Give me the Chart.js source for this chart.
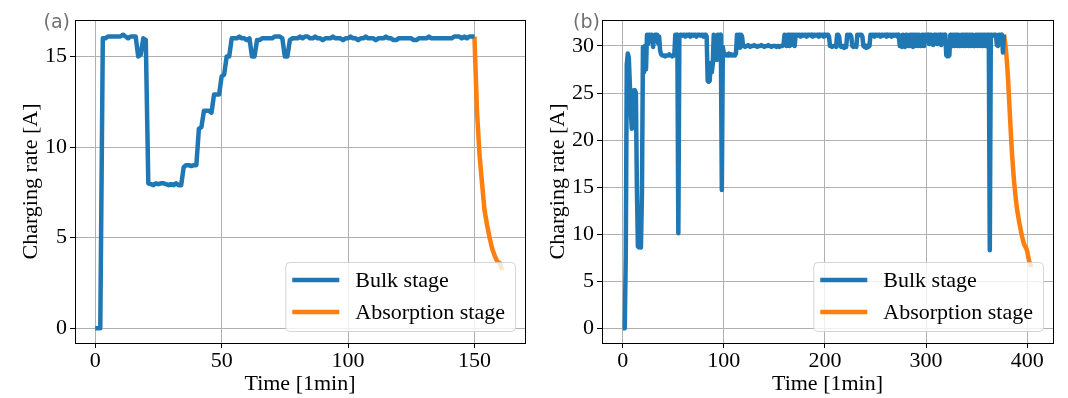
<!DOCTYPE html>
<html>
<head>
<meta charset="utf-8">
<script src="https://cdn.jsdelivr.net/npm/chart.js@4.4.0/dist/chart.umd.min.js"></script>
<style>
body{margin:0;background:#fff;}
#wrap{position:relative;width:1068px;height:398px;}
canvas{position:absolute;top:0;}
</style>
</head>
<body>
<div id="wrap">
<canvas id="chartA" width="534" height="398" style="left:0"></canvas>
<canvas id="chartB" width="534" height="398" style="left:534px"></canvas>
</div>
<script>
var seriesLabels = ['Bulk stage', 'Absorption stage'];

// (a) charging current per minute
var bulkA = [
	0, 0, 0, 16.0, 16.0, 16.1, 16.1, 16.1, 16.1, 16.1,
	16.1, 16.2, 16.1, 16.0, 16.1, 16.1, 16.1, 15.0, 15.1, 16.0,
	15.9, 8.0, 7.95, 7.9, 8.0, 7.95, 8.0, 8.0, 7.95, 7.9,
	7.95, 7.9, 8.0, 7.9, 7.9, 8.9, 9.0, 9.0, 8.95, 9.0,
	9.0, 11.0, 11.1, 12.0, 12.0, 12.0, 11.9, 12.9, 12.9, 12.9,
	13.9, 14.0, 15.0, 15.0, 16.0, 16.0, 16.0, 16.1, 16.0, 16.0,
	15.9, 16.0, 15.0, 15.0, 15.9, 15.9, 16.0, 16.0, 16.0, 16.0,
	16.0, 16.1, 16.1, 16.1, 16.0, 15.0, 15.0, 15.9, 16.0, 16.0,
	16.0, 16.1, 16.0, 16.1, 16.1, 16.0, 16.0, 16.1, 16.0, 16.0,
	15.9, 16.0, 16.0, 16.0, 16.1, 16.0, 16.0, 16.0, 15.9, 16.0,
	16.0, 16.1, 16.0, 16.0, 15.9, 16.0, 16.0, 16.1, 16.0, 16.0,
	16.0, 15.9, 16.0, 16.0, 16.0, 16.1, 16.0, 16.0, 15.9, 15.9,
	16.0, 16.0, 16.0, 16.0, 16.0, 16.0, 15.9, 15.9, 16.0, 16.0,
	16.0, 16.0, 16.1, 16.0, 16.0, 16.0, 16.0, 16.0, 16.0, 16.0,
	16.0, 16.0, 16.1, 16.1, 16.1, 16.0, 16.1, 16.0, 16.1, 16.1,
	16.1
];
var absorptionStartA = 150;
var absorptionA = [16.1, 12.0, 9.6, 8.0, 6.5, 5.7, 5.0, 4.4, 4.0, 3.7, 3.6, 3.2];
var xTicksA = [0, 50, 100, 150];
var yTicksA = [0, 5, 10, 15];

// (b)
var bulkB = [
	0, 0, 0, 7.7, 28.0, 29.2, 28.8, 26.0, 23.0, 21.2,
	23.5, 25.3, 25.3, 25.0, 15.0, 8.7, 8.6, 8.7, 8.6, 14.3,
	29.9, 27.2, 30.0, 27.5, 31.2, 30.2, 31.2, 31.2, 30.5, 31.2,
	29.9, 31.0, 31.2, 31.2, 31.2, 30.3, 31.0, 29.5, 29.1, 29.0,
	29.0, 29.0, 28.9, 29.0, 29.0, 29.0, 29.1, 29.0, 29.0, 28.9,
	29.0, 29.0, 31.2, 31.1, 31.2, 10.1, 31.0, 31.2, 31.2, 31.1,
	31.2, 31.2, 31.0, 31.2, 31.2, 31.1, 31.2, 31.0, 31.2, 31.2,
	31.1, 31.2, 31.2, 31.0, 31.2, 31.2, 31.2, 31.1, 31.2, 31.2,
	31.0, 31.2, 31.2, 31.0, 26.3, 26.2, 26.3, 28.2, 27.2, 28.0,
	31.2, 29.2, 31.0, 28.5, 31.2, 31.2, 31.1, 31.2, 14.7, 29.9,
	29.2, 29.0, 29.1, 29.0, 29.0, 29.2, 29.0, 29.1, 29.0, 29.0,
	29.1, 29.0, 29.2, 31.2, 30.8, 31.2, 29.8, 31.2, 31.0, 30.0,
	30.0, 29.9, 30.0, 30.0, 30.1, 30.0, 29.9, 30.0, 30.0, 30.0,
	30.1, 30.0, 30.0, 29.9, 30.0, 30.0, 30.0, 30.1, 30.0, 30.0,
	29.9, 30.0, 30.0, 30.0, 30.1, 30.0, 30.0, 29.9, 30.0, 30.0,
	30.0, 30.0, 29.9, 30.0, 30.0, 29.9, 30.0, 30.0, 30.0, 30.1,
	31.2, 31.0, 30.0, 31.2, 31.2, 30.0, 31.2, 30.1, 31.2, 31.2,
	30.0, 31.2, 31.2, 31.1, 31.2, 31.2, 31.0, 31.2, 31.2, 31.1,
	31.2, 31.2, 31.0, 31.2, 31.2, 31.2, 31.1, 31.2, 31.0, 31.2,
	31.2, 31.1, 31.2, 31.2, 31.0, 31.2, 31.1, 31.2, 31.2, 31.0,
	31.2, 31.1, 31.2, 31.2, 31.0, 30.0, 30.0, 29.9, 30.0, 30.0,
	30.0, 29.9, 31.2, 31.2, 31.0, 30.0, 29.9, 30.0, 30.0, 29.8,
	30.0, 29.9, 31.2, 31.1, 31.2, 31.2, 31.0, 30.0, 29.9, 30.0,
	30.0, 29.9, 31.2, 31.1, 31.2, 31.2, 31.2, 31.0, 30.0, 29.9,
	30.0, 29.8, 30.0, 29.9, 30.0, 31.2, 31.1, 31.2, 31.2, 31.0,
	31.2, 31.2, 31.1, 31.2, 31.2, 31.0, 31.2, 31.2, 31.1, 31.2,
	31.2, 31.0, 31.2, 31.1, 31.2, 31.2, 31.0, 31.2, 31.2, 31.1,
	31.2, 31.2, 31.0, 31.2, 30.0, 30.0, 29.9, 31.2, 30.0, 29.9,
	31.2, 31.2, 30.0, 30.0, 31.2, 30.0, 31.2, 29.9, 31.2, 30.0,
	31.2, 31.2, 30.0, 31.2, 30.0, 30.0, 31.2, 31.2, 30.0, 31.2,
	31.2, 31.1, 31.2, 30.2, 31.2, 31.2, 31.0, 30.1, 31.2, 31.2,
	31.2, 30.2, 31.2, 31.1, 31.2, 30.1, 31.2, 31.2, 31.1, 31.2,
	29.0, 28.9, 28.9, 29.0, 31.2, 31.2, 30.0, 31.2, 30.0, 31.2,
	31.2, 30.0, 31.2, 30.0, 30.0, 31.2, 31.2, 30.0, 31.2, 30.0,
	31.2, 31.2, 30.0, 31.2, 30.0, 31.2, 31.2, 30.0, 30.0, 31.2,
	31.2, 30.0, 31.2, 31.2, 30.0, 31.2, 30.0, 31.2, 31.2, 30.0,
	31.2, 31.2, 31.2, 8.3, 31.2, 31.2, 31.1, 31.2, 31.2, 31.2,
	30.1, 30.0, 31.2, 31.2, 31.1, 31.2, 29.3, 31.2
];
var absorptionStartB = 377;
var absorptionB = [
	31.2, 30.5, 29.5, 28.2, 26.6, 24.5, 22.4, 20.4, 18.5, 17.0,
	15.6, 14.5, 13.5, 12.6, 12.0, 11.3, 10.8, 10.2, 9.7, 9.3,
	8.9, 8.7, 8.5, 8.2, 7.6, 7.1, 6.8, 6.5
];
var xTicksB = [0, 100, 200, 300, 400];
var yTicksB = [0, 5, 10, 15, 20, 25, 30];

var serif = 'Liberation Serif';
var espessura = 4.5;

function pontos(valores, inicio){
	return valores.map(function(v, i){ return {x: inicio + i, y: v}; });
}

// frame, legend inside the axes and the panel letter
var painelPlugin = {
	id: 'painel',
	afterDatasetsDraw: function(chart, args, opts){
		var ctx = chart.ctx;
		var a = chart.chartArea;
		ctx.save();
		ctx.strokeStyle = '#000';
		ctx.lineWidth = 1;
		ctx.strokeRect(Math.round(a.left) + 0.5, Math.round(a.top) + 0.5, Math.round(a.right - a.left), Math.round(a.bottom - a.top));

		ctx.font = '22px "' + serif + '"';
		var ds = chart.data.datasets;
		var textW = 0;
		ds.forEach(function(d){ textW = Math.max(textW, ctx.measureText(d.label).width); });
		var w = 7 + 47 + 16 + textW + 10;
		var h = 69;
		var x = a.right - 10 - w;
		var y = a.bottom - 12 - h;
		ctx.beginPath();
		ctx.roundRect(x + 0.5, y + 0.5, w, h, 4);
		ctx.fillStyle = 'rgba(255,255,255,0.8)';
		ctx.fill();
		ctx.strokeStyle = 'rgba(204,204,204,0.8)';
		ctx.stroke();
		ds.forEach(function(d, i){
			var ly = y + 18 + i * 32;
			ctx.beginPath();
			ctx.moveTo(x + 7, ly);
			ctx.lineTo(x + 54, ly);
			ctx.strokeStyle = d.borderColor;
			ctx.lineWidth = espessura;
			ctx.stroke();
			ctx.fillStyle = '#000';
			ctx.textAlign = 'left';
			ctx.textBaseline = 'middle';
			ctx.fillText(d.label, x + 70, ly + 1);
		});

		ctx.font = '19px "DejaVu Sans"';
		ctx.fillStyle = '#707070';
		ctx.textAlign = 'right';
		ctx.textBaseline = 'middle';
		ctx.fillText(opts.letra, opts.letraX, a.top + 3);
		ctx.restore();
	}
};

function renderChart(id, cfg){
	var ctx = document.getElementById(id).getContext('2d');
	var fonte = {family: serif, size: 22};
	return new Chart(ctx, {
		type: 'line',
		data: {
			datasets: [{
				label: seriesLabels[0],
				data: pontos(cfg.bulk, 0),
				borderColor: '#1f77b4',
				borderWidth: espessura,
				pointRadius: 0,
				tension: 0,
				borderJoinStyle: 'round'
			}, {
				label: seriesLabels[1],
				data: pontos(cfg.absorption, cfg.absorptionStart),
				borderColor: '#ff7f0e',
				borderWidth: espessura,
				pointRadius: 0,
				tension: 0,
				borderJoinStyle: 'round'
			}]
		},
		options: {
			responsive: false,
			animation: false,
			devicePixelRatio: 1,
			layout: {padding: {top: 20, right: cfg.padRight, left: 0, bottom: 0}},
			plugins: {
				legend: {display: false},
				tooltip: {enabled: false},
				painel: {letra: cfg.letra, letraX: cfg.letraX}
			},
			scales: {
				x: {
					type: 'linear',
					min: cfg.xMin,
					max: cfg.xMax,
					afterBuildTicks: function(s){ s.ticks = cfg.xTicks.map(function(v){ return {value: v}; }); },
					afterFit: function(s){ s.height = 55; },
					grid: {color: '#b0b0b0', lineWidth: 1, tickColor: '#000', tickLength: 5},
					border: {display: false},
					ticks: {font: fonte, color: '#000', padding: 0, autoSkip: false, maxRotation: 0},
					title: {display: true, text: 'Time [1min]', font: fonte, color: '#000', padding: {top: 0, bottom: 1}}
				},
				y: {
					type: 'linear',
					min: cfg.yMin,
					max: cfg.yMax,
					afterBuildTicks: function(s){ s.ticks = cfg.yTicks.map(function(v){ return {value: v}; }); },
					afterFit: function(s){ s.width = cfg.yWidth; },
					grid: {color: '#b0b0b0', lineWidth: 1, tickColor: '#000', tickLength: 5},
					border: {display: false},
					ticks: {font: fonte, color: '#000', padding: 3, autoSkip: false},
					title: {display: true, text: 'Charging rate [A]', font: fonte, color: '#000', padding: {top: cfg.yTitlePad, bottom: 0}}
				}
			}
		},
		plugins: [painelPlugin]
	});
}

renderChart('chartA', {
	bulk: bulkA, absorption: absorptionA, absorptionStart: absorptionStartA,
	xMin: -8, xMax: 170, xTicks: xTicksA,
	yMin: -0.81, yMax: 17.01, yTicks: yTicksA,
	yWidth: 75, padRight: 9, yTitlePad: 18,
	letra: '(a)', letraX: 70
});
renderChart('chartB', {
	bulk: bulkB, absorption: absorptionB, absorptionStart: absorptionStartB,
	xMin: -20.5, xMax: 425.5, xTicks: xTicksB,
	yMin: -1.56, yMax: 32.76, yTicks: yTicksB,
	yWidth: 68, padRight: 15, yTitlePad: 11,
	letra: '(b)', letraX: 66
});
</script>
</body>
</html>
